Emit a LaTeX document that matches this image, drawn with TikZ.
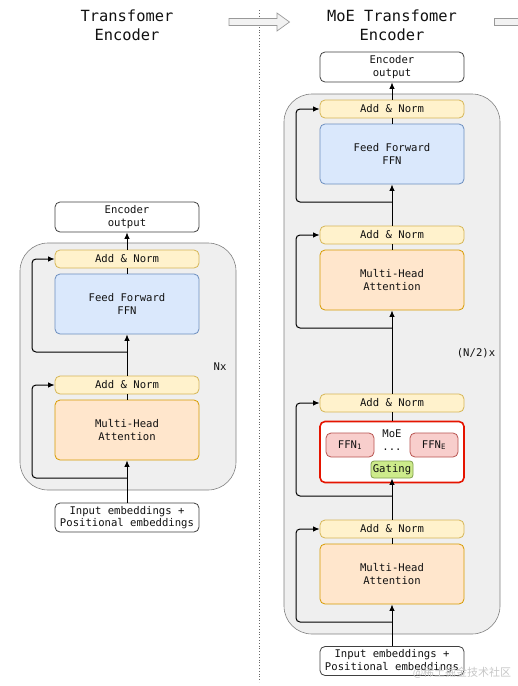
\documentclass[tikz,border=0pt]{standalone}
\usepackage{fontspec}
\setmonofont{DejaVu Sans Mono}
\newfontfamily\cjk{Noto Sans CJK SC}
\usetikzlibrary{arrows.meta}
\definecolor{anfill}{HTML}{FFF2CC}
\definecolor{anline}{HTML}{D6B656}
\definecolor{fffill}{HTML}{DAE8FC}
\definecolor{ffline}{HTML}{6C8EBF}
\definecolor{mhfill}{HTML}{FFE6CC}
\definecolor{mhline}{HTML}{D79B00}
\definecolor{pkfill}{HTML}{F8CECC}
\definecolor{pkline}{HTML}{B85450}
\definecolor{gnfill}{HTML}{CDEB8B}
\definecolor{gnline}{HTML}{82A04D}
\definecolor{moered}{HTML}{E51400}
\definecolor{contfill}{HTML}{EFEFEF}
\definecolor{txt}{HTML}{111111}
\newcommand{\boxfont}{\ttfamily\fontsize{10.6}{12.5}\selectfont\color{txt}}
\newcommand{\titlefont}{\ttfamily\fontsize{15.4}{19}\selectfont\color{txt}}
\begin{document}
\begin{tikzpicture}[x=1pt,y=-1pt,
  base/.style={draw, rounded corners=5pt, minimum width=144pt, align=center, inner sep=0pt, font=\boxfont, line width=0.8pt},
  anbox/.style={base, fill=anfill, draw=anline, minimum height=18pt},
  ffbox/.style={base, fill=fffill, draw=ffline, minimum height=60pt},
  mhbox/.style={base, fill=mhfill, draw=mhline, minimum height=60pt},
  iobox/.style={base, fill=white, draw=black!75, minimum height=30pt},
  cont/.style={draw=black!50, fill=contfill, rounded corners=28pt, line width=0.6pt, minimum width=216pt},
  flow/.style={line width=1pt, draw=black, -{Latex[length=6.5pt,width=5.5pt]}},
  res/.style={flow, rounded corners=4pt},
  plainln/.style={line width=1pt, draw=black},
  lbl/.style={font=\boxfont, inner sep=0pt},
  blockarrow/.style={draw=black!40, fill=black!5, line width=0.7pt}
]
\useasboundingbox (0,0) rectangle (518,686);
\clip (0,0) rectangle (518,686);

% titles
\node[font=\titlefont, align=center] (ltitle) at (127,25) {Transfomer\\Encoder};
\node[font=\titlefont, align=center] (rtitle) at (392,25) {MoE Transfomer\\Encoder};

% separator and block arrows
\draw[black!60, dotted, line width=0.8pt] (259,10) -- (259,682);
\draw[blockarrow] (229,18.5) -- (277,18.5) -- (277,13) -- (289.5,22) -- (277,31) -- (277,25.5) -- (229,25.5) -- cycle;
\draw[blockarrow] (494,18.5) -- (530,18.5) -- (530,25) -- (494,25) -- cycle;

% ---------- left encoder ----------
\node[cont, minimum height=247pt] (lcont) at (128,366.5) {};
\node[iobox] (lout) at (127,217) {Encoder\\output};
\node[anbox] (lan1) at (127,259) {Add \& Norm};
\node[ffbox] (lffn) at (127,304) {Feed Forward\\FFN};
\node[anbox] (lan2) at (127,385) {Add \& Norm};
\node[mhbox] (lmha) at (127,430) {Multi-Head\\Attention};
\node[iobox, minimum height=29pt] (lin) at (127,517.5) {Input embeddings +\\Positional embeddings};
\node[lbl] (lnx) at (220,367) {Nx};

\coordinate (lb1) at (127,352);
\coordinate (lb2) at (127,478);
\draw[flow] (lin.north) -- (lmha.south);
\draw[plainln] (lmha.north) -- (lan2.south);
\draw[flow] (lan2.north) -- (lffn.south);
\draw[plainln] (lffn.north) -- (lan1.south);
\draw[flow] (lan1.north) -- (lout.south);
\draw[res] (lb1) -- ++(-95,0) |- (lan1.west);
\draw[res] (lb2) -- ++(-95,0) |- (lan2.west);

% ---------- right encoder ----------
\node[cont, minimum height=540pt] (rcont) at (392,364) {};
\node[iobox] (rout) at (392,67) {Encoder\\output};
\node[anbox] (ran1) at (392,109) {Add \& Norm};
\node[ffbox] (rffn) at (392,154) {Feed Forward\\FFN};
\node[anbox] (ran2) at (392,235) {Add \& Norm};
\node[mhbox] (rmha1) at (392,280) {Multi-Head\\Attention};
\node[anbox] (ran3) at (392,403) {Add \& Norm};
\node[base, draw=moered, fill=white, line width=1.6pt, minimum height=61pt] (rmoe) at (392,452) {};
\node[base, fill=pkfill, draw=pkline, minimum width=48pt, minimum height=24pt] (rffn1) at (350,445) {FFN\textsubscript{1}};
\node[base, fill=pkfill, draw=pkline, minimum width=48pt, minimum height=24pt] (rffne) at (434,445) {FFN\textsubscript{E}};
\node[lbl] (rmoelbl) at (392,434) {MoE};
\node[lbl] (rdots) at (392,450) {...};
\node[base, fill=gnfill, draw=gnline, rounded corners=3pt, minimum width=42pt, minimum height=17pt] (rgate) at (392,469.5) {Gating};
\node[anbox] (ran4) at (392,529) {Add \& Norm};
\node[mhbox] (rmha2) at (392,574) {Multi-Head\\Attention};
\node[iobox, minimum height=29pt] (rin) at (392,661) {Input embeddings +\\Positional embeddings};
\node[lbl] (rnx) at (476,353) {(N/2)x};

\coordinate (rb1) at (392,202);
\coordinate (rb2) at (392,328);
\coordinate (rb3) at (392,496);
\coordinate (rb4) at (392,622);
\draw[flow] (rin.north) -- (rmha2.south);
\draw[plainln] (rmha2.north) -- (ran4.south);
\draw[flow] (ran4.north) -- (rgate.south);
\draw[plainln] (rmoe.north) -- (ran3.south);
\draw[flow] (ran3.north) -- (rmha1.south);
\draw[plainln] (rmha1.north) -- (ran2.south);
\draw[flow] (ran2.north) -- (rffn.south);
\draw[plainln] (rffn.north) -- (ran1.south);
\draw[flow] (ran1.north) -- (rout.south);
\draw[res] (rb1) -- ++(-96,0) |- (ran1.west);
\draw[res] (rb2) -- ++(-96,0) |- (ran2.west);
\draw[res] (rb3) -- ++(-96,0) |- (ran3.west);
\draw[res] (rb4) -- ++(-96,0) |- (ran4.west);

% watermark
\node[font=\cjk\fontsize{11}{11}\selectfont, text=black!22, inner sep=0pt] (wm) at (462,673) {@稀土掘金技术社区};
\end{tikzpicture}
\end{document}
